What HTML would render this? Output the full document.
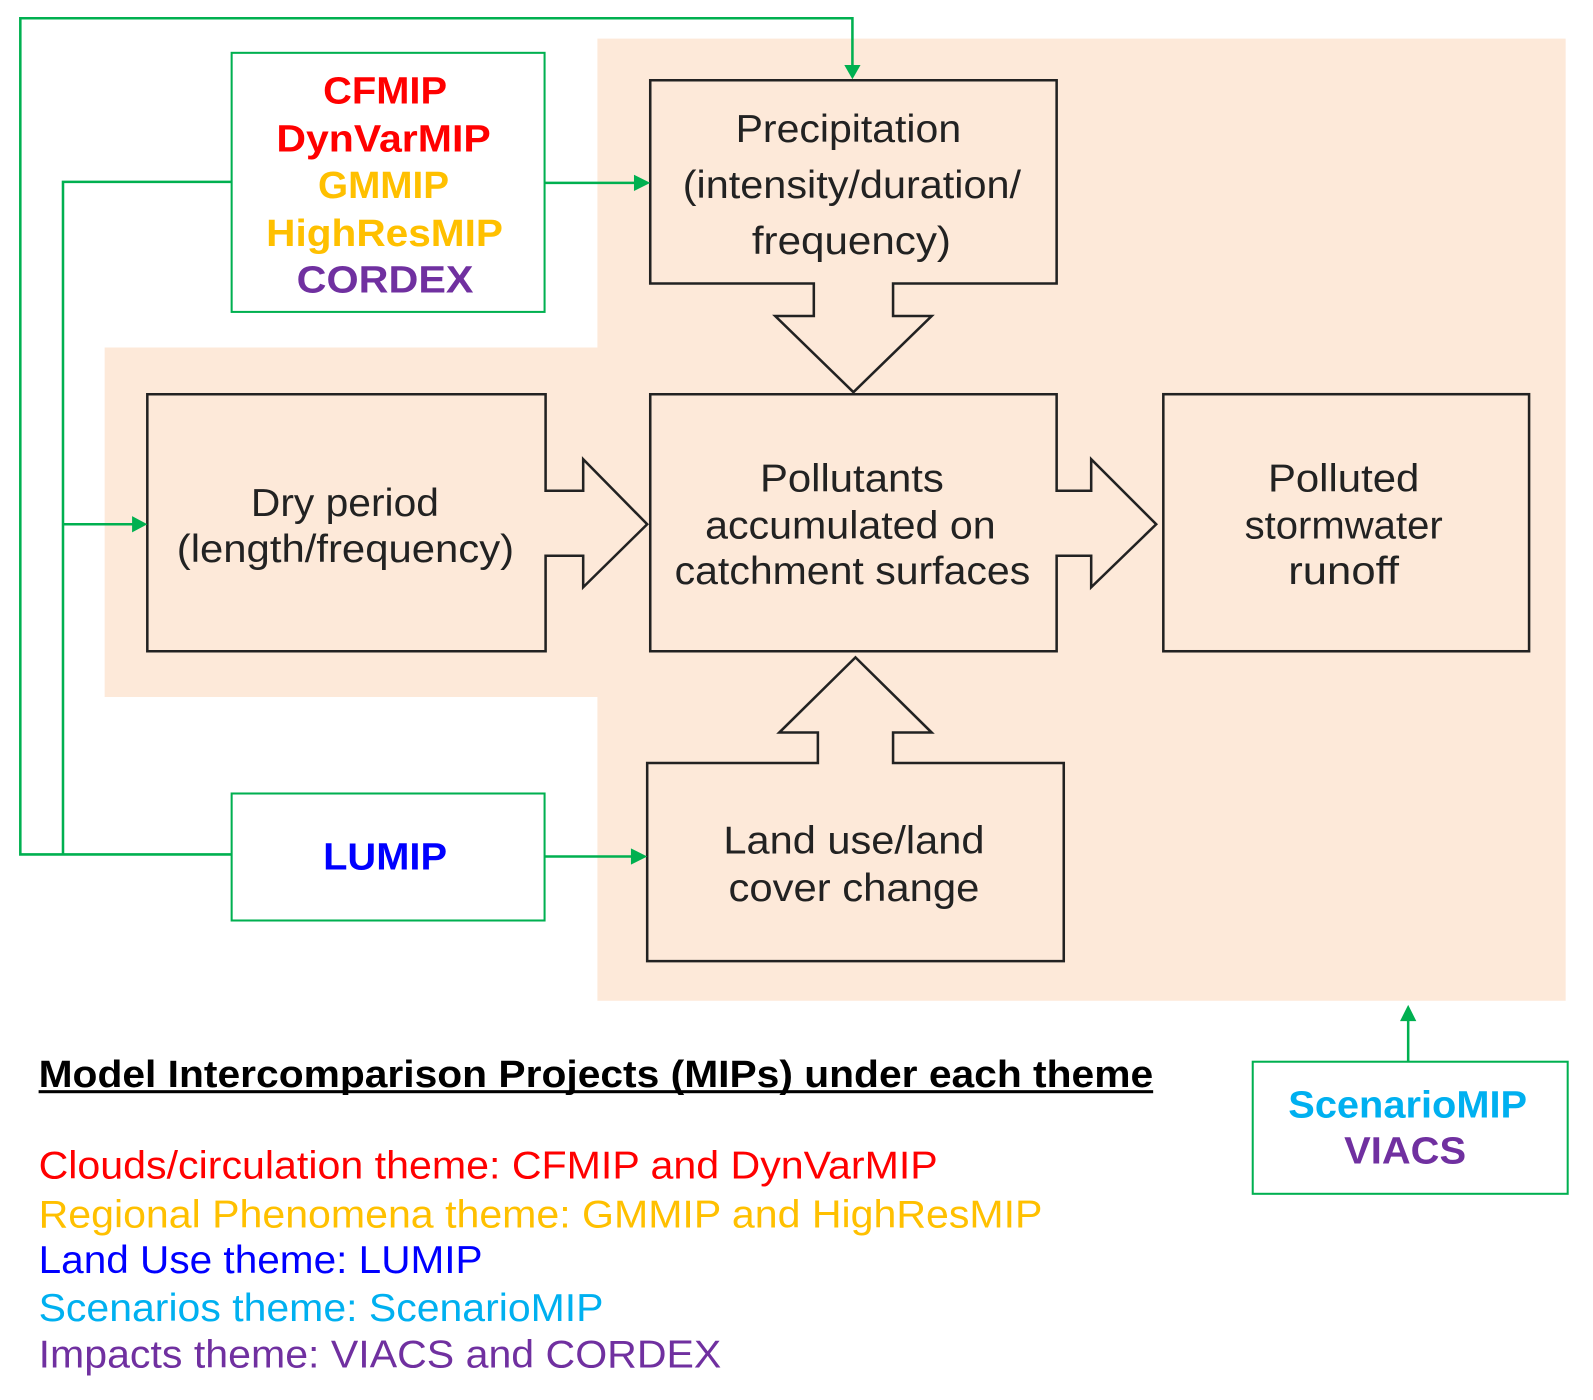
<!DOCTYPE html>
<html><head><meta charset="utf-8"><style>
html,body{margin:0;padding:0;background:#fff;}
svg{display:block;}
text{font-family:"Liberation Sans",Arial,sans-serif;}
</style></head><body>
<svg width="1593" height="1400" viewBox="0 0 1593 1400" xmlns="http://www.w3.org/2000/svg">
<g transform="scale(1.016)">
<!-- peach background -->
<path d="M588 38 H1541 V985 H588 V686 H103 V342 H588 Z" fill="#fde9d9"/>

<g fill="#fde9d9" stroke="#222" stroke-width="2.5" stroke-linejoin="miter">
<path d="M640 79 H1040 V279 H879 V311 H917 L840 386 L763 311 H801 V279 H640 Z"/>
<path d="M145 388 H537 V483 H574 V452 L637 516 L574 578 V547 H537 V641 H145 Z"/>
<path d="M640 388 H1040 V483 H1074 V452 L1138 516 L1074 578 V547 H1040 V641 H640 Z"/>
<rect x="1145" y="388" width="360" height="253"/>
<path d="M637 751 H805 V721 H767 L842 647 L917 721 H879 V751 H1047 V946 H637 Z"/>
</g>

<g fill="#fff" stroke="#00b050" stroke-width="2">
<rect x="228" y="52" width="308" height="255"/>
<rect x="228" y="781" width="308" height="125"/>
<rect x="1233" y="1045" width="310" height="130"/>
</g>

<g stroke="#00b050" stroke-width="2.5" fill="none">
<polyline points="228,841 20,841 20,18 839,18 839,66"/>
<polyline points="228,179 62,179 62,841"/>
<line x1="62" y1="516" x2="132" y2="516"/>
<line x1="536" y1="180" x2="626" y2="180"/>
<line x1="536" y1="843" x2="623" y2="843"/>
<line x1="1386" y1="1045" x2="1386" y2="1003"/>
</g>
<g fill="#00b050">
<polygon points="831,64 847,64 839,78"/>
<polygon points="624,172 624,188 640,180"/>
<polygon points="130,508 130,524 145,516"/>
<polygon points="621,835 621,851 637,843"/>
<polygon points="1378,1005 1394,1005 1386,989"/>
</g>

<g font-size="38" fill="#222">
<text x="724" y="140" textLength="222" lengthAdjust="spacingAndGlyphs">Precipitation</text>
<text x="672" y="195" textLength="333" lengthAdjust="spacingAndGlyphs">(intensity/duration/</text>
<text x="740" y="250" textLength="196" lengthAdjust="spacingAndGlyphs">frequency)</text>
<text x="247" y="508" textLength="185" lengthAdjust="spacingAndGlyphs">Dry period</text>
<text x="174" y="553" textLength="332" lengthAdjust="spacingAndGlyphs">(length/frequency)</text>
<text x="748" y="484" textLength="181" lengthAdjust="spacingAndGlyphs">Pollutants</text>
<text x="694" y="530" textLength="286" lengthAdjust="spacingAndGlyphs">accumulated on</text>
<text x="664" y="575" textLength="350" lengthAdjust="spacingAndGlyphs">catchment surfaces</text>
<text x="1248" y="484" textLength="149" lengthAdjust="spacingAndGlyphs">Polluted</text>
<text x="1225" y="530" textLength="195" lengthAdjust="spacingAndGlyphs">stormwater</text>
<text x="1268" y="575" textLength="109" lengthAdjust="spacingAndGlyphs">runoff</text>
<text x="712" y="840" textLength="257" lengthAdjust="spacingAndGlyphs">Land use/land</text>
<text x="717" y="887" textLength="247" lengthAdjust="spacingAndGlyphs">cover change</text>
</g>

<g font-size="37" font-weight="bold">
<text x="318" y="102" fill="#ff0000" textLength="122" lengthAdjust="spacingAndGlyphs">CFMIP</text>
<text x="272" y="149" fill="#ff0000" textLength="211" lengthAdjust="spacingAndGlyphs">DynVarMIP</text>
<text x="313" y="195" fill="#ffc000" textLength="129" lengthAdjust="spacingAndGlyphs">GMMIP</text>
<text x="262" y="242" fill="#ffc000" textLength="233" lengthAdjust="spacingAndGlyphs">HighResMIP</text>
<text x="292" y="288" fill="#7030a0" textLength="174" lengthAdjust="spacingAndGlyphs">CORDEX</text>
<text x="318" y="856" fill="#0000ff" textLength="122" lengthAdjust="spacingAndGlyphs">LUMIP</text>
<text x="1268" y="1100" fill="#00b0f0" textLength="235" lengthAdjust="spacingAndGlyphs">ScenarioMIP</text>
<text x="1323" y="1145" fill="#7030a0" textLength="120" lengthAdjust="spacingAndGlyphs">VIACS</text>
</g>

<text x="38" y="1070" font-size="37" font-weight="bold" fill="#000" textLength="1097" lengthAdjust="spacingAndGlyphs">Model Intercomparison Projects (MIPs) under each theme</text>
<rect x="38" y="1073" width="1097" height="3" fill="#000"/>
<g font-size="38">
<text x="38" y="1160" fill="#ff0000" textLength="885" lengthAdjust="spacingAndGlyphs">Clouds/circulation theme: CFMIP and DynVarMIP</text>
<text x="38" y="1208" fill="#ffc000" textLength="988" lengthAdjust="spacingAndGlyphs">Regional Phenomena theme: GMMIP and HighResMIP</text>
<text x="38" y="1253" fill="#0000ff" textLength="437" lengthAdjust="spacingAndGlyphs">Land Use theme: LUMIP</text>
<text x="38" y="1300" fill="#00b0f0" textLength="556" lengthAdjust="spacingAndGlyphs">Scenarios theme: ScenarioMIP</text>
<text x="38" y="1346" fill="#7030a0" textLength="672" lengthAdjust="spacingAndGlyphs">Impacts theme: VIACS and CORDEX</text>
</g>
</g>
</svg>
</body></html>
